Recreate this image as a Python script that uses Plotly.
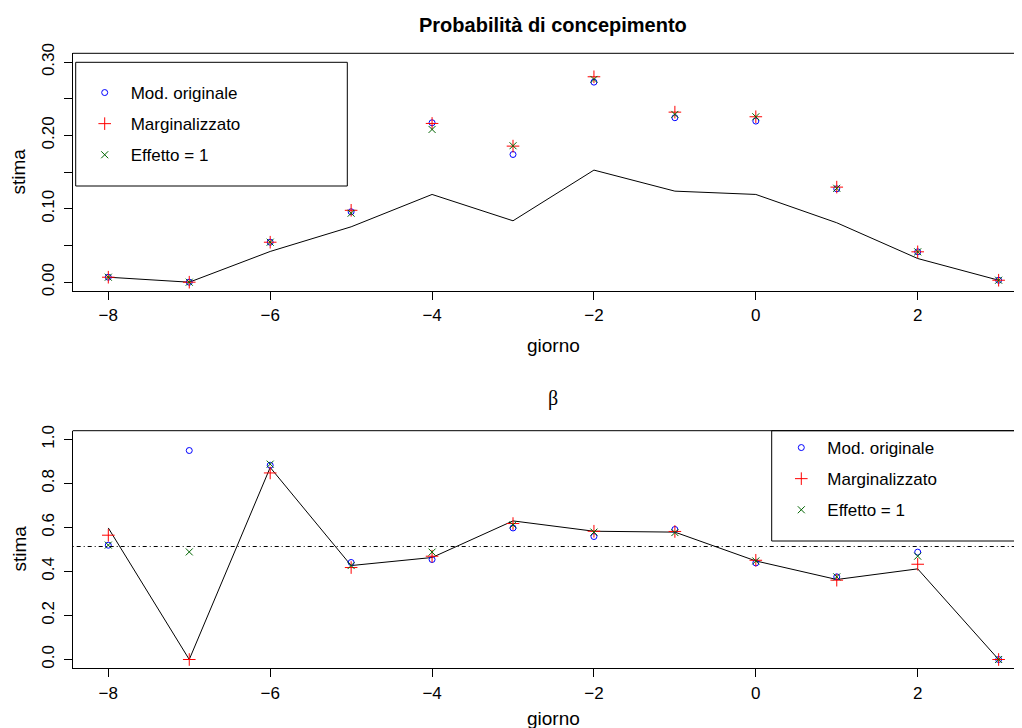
import plotly.graph_objects as go

# ---------------- data ----------------
days = [-8, -7, -6, -5, -4, -3, -2, -1, 0, 1, 2, 3]

# Probabilità di concepimento
p_orig = [0.0068, 0.000, 0.0545, 0.096, 0.2173, 0.1741, 0.2727, 0.2242, 0.2196, 0.1273, 0.0414, 0.0027]
p_marg = [0.0068, 0.000, 0.0545, 0.098, 0.2164, 0.1855, 0.2800, 0.2318, 0.2255, 0.1296, 0.0414, 0.0027]
p_eff1 = [0.0068, 0.000, 0.0545, 0.094, 0.2082, 0.1860, 0.2764, 0.2287, 0.2255, 0.1280, 0.0414, 0.0027]
p_line = [0.0068, 0.000, 0.0419, 0.0755, 0.1196, 0.0837, 0.1528, 0.1241, 0.1196, 0.0810, 0.0323, 0.0027]

# beta
b_orig = [0.5195, 0.950, 0.883, 0.441, 0.4545, 0.598, 0.559, 0.591, 0.439, 0.3757, 0.488, 0.0]
b_marg = [0.565, 0.000, 0.848, 0.418, 0.4695, 0.618, 0.583, 0.582, 0.451, 0.3606, 0.433, 0.0]
b_eff1 = [0.520, 0.489, 0.888, 0.427, 0.4880, 0.612, 0.579, 0.577, 0.448, 0.3757, 0.4697, 0.0]
b_line = [0.598, 0.000, 0.873, 0.427, 0.4636, 0.630, 0.583, 0.579, 0.448, 0.3636, 0.412, 0.0]
b_ref = 0.5136

series_names = ["Mod. originale", "Marginalizzato", "Effetto = 1"]
x_ticks = [-8, -6, -4, -2, 0, 2]
top_yticks = [0.0, 0.05, 0.10, 0.15, 0.20, 0.25, 0.30]
top_yticklabels = ["0.00", "", "0.10", "", "0.20", "", "0.30"]
bot_yticks = [0.0, 0.2, 0.4, 0.6, 0.8, 1.0]
bot_yticklabels = ["0.0", "0.2", "0.4", "0.6", "0.8", "1.0"]

# ---------------- style ----------------
PAGE_W, PAGE_H = 1022, 728
OFF = 8  # page body margin offset
W, H = PAGE_W - OFF, PAGE_H - OFF
FONT = "Liberation Sans, Arial, Helvetica, sans-serif"
colors = ["blue", "red", "darkgreen"]
symbols = ["circle-open", "cross-thin-open", "x-thin-open"]
sizes = [6, 9, 7]


def fx(p):
    return (p - OFF) / W


def fy(p):
    return 1 - (p - OFF) / H


fig = go.Figure()

# top panel
fig.add_trace(go.Scatter(x=days, y=p_line, mode="lines", line=dict(color="black", width=1),
                         showlegend=False, xaxis="x", yaxis="y"))
for name, vals, c, s, sz in zip(series_names, [p_orig, p_marg, p_eff1], colors, symbols, sizes):
    fig.add_trace(go.Scatter(x=days, y=vals, mode="markers", name=name,
                             marker=dict(symbol=s, size=sz, color=c, line=dict(color=c, width=1)),
                             legend="legend", legendgroup="t" + name, xaxis="x", yaxis="y"))

# bottom panel
fig.add_trace(go.Scatter(x=days, y=b_line, mode="lines", line=dict(color="black", width=1),
                         showlegend=False, xaxis="x2", yaxis="y2"))
for name, vals, c, s, sz in zip(series_names, [b_orig, b_marg, b_eff1], colors, symbols, sizes):
    fig.add_trace(go.Scatter(x=days, y=vals, mode="markers", name=name,
                             marker=dict(symbol=s, size=sz, color=c, line=dict(color=c, width=1)),
                             legend="legend2", legendgroup="b" + name, xaxis="x2", yaxis="y2"))

x_range = [-8.44, -8 + (PAGE_W - 108.3) / 80.94]
xdom = [fx(72.7), 1.0]

axis_common = dict(showline=True, linecolor="black", linewidth=1, ticks="outside",
                   ticklen=8, tickwidth=1, tickcolor="black", showgrid=False, zeroline=False,
                   automargin=False,
                   tickfont=dict(family=FONT, size=17, color="black"))

fig.update_layout(
    width=W, height=H, margin=dict(l=0, r=0, t=0, b=0),
    paper_bgcolor="white", plot_bgcolor="white",
    font=dict(family=FONT, size=17, color="black"),
    xaxis=dict(domain=xdom, range=x_range, tickvals=x_ticks, anchor="y", ticklabelstandoff=1, **axis_common),
    yaxis=dict(domain=[fy(291), fy(53.3)], range=[-0.012, 0.312], tickvals=top_yticks,
               ticktext=top_yticklabels, tickangle=-90, anchor="x", ticklabelstandoff=3, **axis_common),
    xaxis2=dict(domain=xdom, range=x_range, tickvals=x_ticks, anchor="y2", ticklabelstandoff=1, **axis_common),
    yaxis2=dict(domain=[fy(668.3), fy(430.7)], range=[-0.04, 1.04], tickvals=bot_yticks,
                ticktext=bot_yticklabels, tickangle=-90, anchor="x2", ticklabelstandoff=3, **axis_common),
    legend=dict(x=fx(78.7), y=fy(75), xanchor="left", yanchor="top",
                bgcolor="rgba(0,0,0,0)", borderwidth=0, itemwidth=42, tracegroupgap=6,
                font=dict(family=FONT, size=17, color="black")),
    legend2=dict(x=fx(775.3), y=fy(430), xanchor="left", yanchor="top",
                 bgcolor="rgba(0,0,0,0)", borderwidth=0, itemwidth=42, tracegroupgap=6,
                 font=dict(family=FONT, size=17, color="black")),
    showlegend=True,
)

shapes = [
    # top border of each plot box
    dict(type="line", xref="x domain", yref="y domain", x0=0, x1=1.05, y0=1, y1=1,
         line=dict(color="black", width=1)),
    dict(type="line", xref="x2 domain", yref="y2 domain", x0=0, x1=1.05, y0=1, y1=1,
         line=dict(color="black", width=1)),
    # legend boxes
    dict(type="rect", xref="paper", yref="paper", x0=fx(75.7), x1=fx(347.3),
         y0=fy(186), y1=fy(62.3), line=dict(color="black", width=1)),
    dict(type="rect", xref="paper", yref="paper", x0=fx(771.7), x1=1.05,
         y0=fy(541), y1=fy(430.7), line=dict(color="black", width=1)),
    # reference line (dot-dash) in the beta panel
    dict(type="line", xref="x2 domain", yref="y2", x0=0, x1=1.05, y0=b_ref, y1=b_ref,
         line=dict(color="black", width=1, dash="1px,3px,4px,3px")),
]
fig.update_layout(shapes=shapes)

annotations = [
    dict(text="<b>Probabilità di concepimento</b>", x=fx(553), y=fy(25), xref="paper", yref="paper",
         showarrow=False, font=dict(family=FONT, size=20, color="black"), xanchor="center", yanchor="middle"),
    dict(text="giorno", x=fx(553.8), y=fy(345), xref="paper", yref="paper",
         showarrow=False, font=dict(family=FONT, size=19, color="black"), xanchor="center", yanchor="middle"),
    dict(text="stima", x=fx(18.5), y=fy(172), xref="paper", yref="paper", textangle=-90,
         showarrow=False, font=dict(family=FONT, size=19, color="black"), xanchor="center", yanchor="middle"),
    dict(text="β", x=fx(553.3), y=fy(399), xref="paper", yref="paper",
         showarrow=False, font=dict(family="Liberation Serif, DejaVu Serif, serif", size=20, color="black"),
         xanchor="center", yanchor="middle"),
    dict(text="giorno", x=fx(553.8), y=fy(718), xref="paper", yref="paper",
         showarrow=False, font=dict(family=FONT, size=19, color="black"), xanchor="center", yanchor="middle"),
    dict(text="stima", x=fx(18.5), y=fy(549), xref="paper", yref="paper", textangle=-90,
         showarrow=False, font=dict(family=FONT, size=19, color="black"), xanchor="center", yanchor="middle"),
]
fig.update_layout(annotations=annotations)

fig.write_html("out.html")
